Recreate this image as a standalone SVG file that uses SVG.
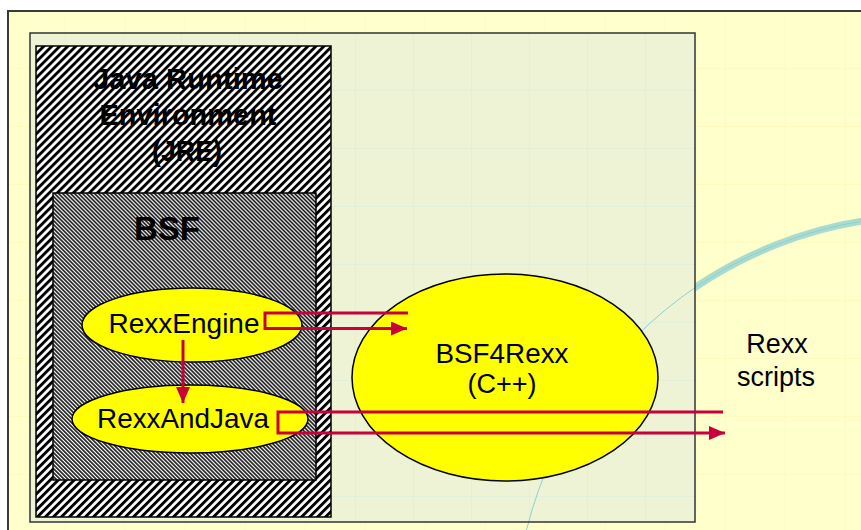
<svg xmlns="http://www.w3.org/2000/svg" width="861" height="530" viewBox="0 0 861 530">
  <style>
    .lbl { font-family: "Liberation Sans", Arial, sans-serif; fill: #000; text-anchor: middle; }
    .bold { font-weight: bold; }
    .ell { fill: #FFFF00; stroke: #000; stroke-width: 1.5; }
    .conn { fill: none; stroke: #C8003C; stroke-width: 3; }
  </style>
  <defs>
    <pattern id="hatchJRE" patternUnits="userSpaceOnUse" width="5.66" height="10" patternTransform="rotate(45)">
      <rect x="0" y="0" width="5.66" height="10" fill="#fff"/>
      <rect x="0" y="0" width="2.9" height="10" fill="#000"/>
    </pattern>
    <pattern id="hatchBSF" patternUnits="userSpaceOnUse" width="2.83" height="10" patternTransform="rotate(-45)">
      <rect x="0" y="0" width="2.83" height="10" fill="#fff"/>
      <rect x="0" y="0" width="1.5" height="10" fill="#000"/>
    </pattern>
    <pattern id="gridOuter" patternUnits="userSpaceOnUse" x="5" y="10" width="60" height="58">
      <path d="M0,0 H60 M0,0 V58" fill="none" stroke="#FFF6B0" stroke-width="1"/>
    </pattern>
    <pattern id="gridPanel" patternUnits="userSpaceOnUse" x="7" y="32" width="58" height="58">
      <path d="M0,0 H58 M0,0 V58" fill="none" stroke="#DCEBDA" stroke-width="1"/>
    </pattern>
    <clipPath id="rightOfPanel">
      <rect x="695" y="0" width="166" height="530"/>
    </clipPath>
    <clipPath id="panelClip">
      <rect x="30" y="33" width="665" height="489"/>
    </clipPath>
    <marker id="arrow" markerUnits="userSpaceOnUse" markerWidth="17" markerHeight="15" refX="16" refY="7" orient="auto">
      <path d="M0,0 L16,7 L0,14 Z" fill="#C8003C"/>
    </marker>
  </defs>

  <!-- background -->
  <rect x="0" y="0" width="861" height="530" fill="#fff"/>
  <rect x="8" y="11" width="900" height="600" fill="#FFFFCC"/>
  <rect x="8" y="11" width="900" height="600" fill="url(#gridOuter)"/>
  <circle cx="927.5" cy="629" r="413" fill="none" stroke="#A9DCCF" stroke-width="7" clip-path="url(#rightOfPanel)"/>
  <circle cx="927.5" cy="629" r="413" fill="none" stroke="#8FD0D2" stroke-width="1"/>
  <rect x="8" y="11" width="900" height="600" fill="none" stroke="#3A3A3A" stroke-width="2"/>

  <!-- panel -->
  <g id="panel">
    <rect x="30" y="33" width="665" height="489" fill="#EDF3D4"/>
    <rect x="30" y="33" width="665" height="489" fill="url(#gridPanel)"/>
    <circle cx="927.5" cy="629" r="413" fill="none" stroke="#8FD0D2" stroke-width="1" clip-path="url(#panelClip)"/>
    <rect x="30" y="33" width="665" height="489" fill="none" stroke="#333" stroke-width="1.5"/>
  </g>

  <g id="jre">
    <rect x="36" y="46" width="295" height="471" fill="url(#hatchJRE)" stroke="#000" stroke-width="1.5"/>
    <text class="lbl bold" x="188" y="89" font-size="30" textLength="190" lengthAdjust="spacingAndGlyphs">Java Runtime</text>
    <text class="lbl bold" x="188" y="125" font-size="30" textLength="177" lengthAdjust="spacingAndGlyphs">Environment</text>
    <text class="lbl bold" x="187" y="161" font-size="30" textLength="70" lengthAdjust="spacingAndGlyphs">(JRE)</text>
  </g>

  <g id="bsf">
    <rect x="53" y="193" width="263" height="287" fill="url(#hatchBSF)" stroke="#000" stroke-width="1.5"/>
    <text class="lbl bold" x="167" y="240" font-size="33" textLength="66" lengthAdjust="spacingAndGlyphs">BSF</text>
  </g>

  <g id="rexxengine">
    <ellipse class="ell" cx="192" cy="325" rx="110" ry="37"/>
    <text class="lbl" x="184" y="333" font-size="28" textLength="151" lengthAdjust="spacingAndGlyphs">RexxEngine</text>
  </g>

  <g id="rexxandjava">
    <ellipse class="ell" cx="190" cy="419" rx="118" ry="34"/>
    <text class="lbl" x="183" y="428" font-size="28" textLength="172" lengthAdjust="spacingAndGlyphs">RexxAndJava</text>
  </g>

  <g id="bsf4rexx">
    <ellipse class="ell" cx="505" cy="377.5" rx="153" ry="103.5"/>
    <text class="lbl" x="502" y="363" font-size="27" textLength="133" lengthAdjust="spacingAndGlyphs">BSF4Rexx</text>
    <text class="lbl" x="502" y="393" font-size="27">(C++)</text>
  </g>

  <g id="rexxscripts">
    <text class="lbl" x="777" y="353" font-size="27">Rexx</text>
    <text class="lbl" x="776" y="386" font-size="27">scripts</text>
  </g>

  <g id="connectors">
    <path class="conn" d="M408,313 H265 V328.5 H407" marker-end="url(#arrow)"/>
    <path class="conn" d="M183,340 V403" marker-end="url(#arrow)"/>
    <path class="conn" d="M723,412 H278 V433 H725" marker-end="url(#arrow)"/>
  </g>
</svg>
